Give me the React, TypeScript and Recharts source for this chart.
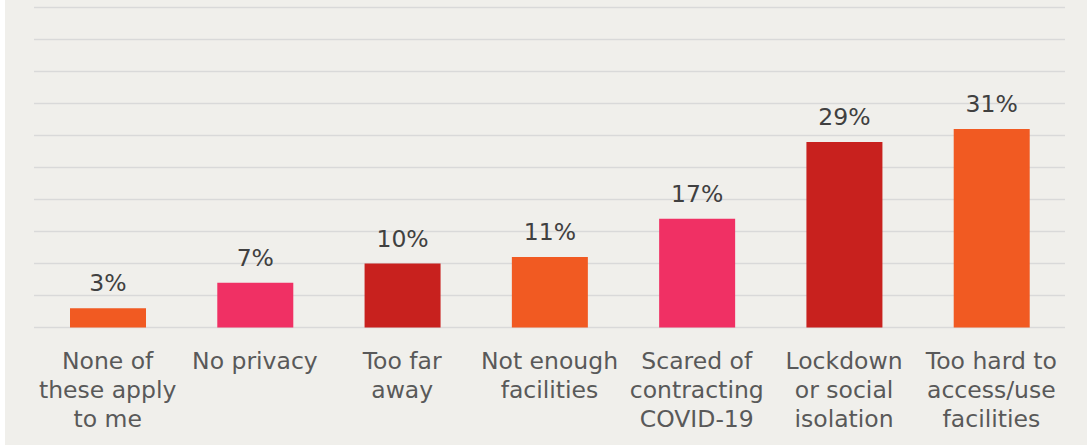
// Bar chart: reasons for not using facilities, share of respondents.

import { BarChart, Bar, XAxis, YAxis, CartesianGrid, Cell, LabelList } from 'recharts'

const categories = [
  ['None of', 'these apply', 'to me'],
  ['No privacy'],
  ['Too far', 'away'],
  ['Not enough', 'facilities'],
  ['Scared of', 'contracting', 'COVID-19'],
  ['Lockdown', 'or social', 'isolation'],
  ['Too hard to', 'access/use', 'facilities'],
]
const values = [3, 7, 10, 11, 17, 29, 31]
const barColors = ['#f15a22', '#f03064', '#c8211e', '#f15a22', '#f03064', '#c8211e', '#f15a22']
const yTicks = [0, 5, 10, 15, 20, 25, 30, 35, 40, 45, 50]

const FONT = '"DejaVu Sans", Verdana, sans-serif'

const data = categories.map((lines, i) => ({
  name: lines.join(' '),
  lines,
  value: values[i],
}))

function CategoryTick({ x, y, index }: { x?: number; y?: number; index?: number }) {
  const lines = categories[index ?? 0]
  return (
    <text x={x} y={y} textAnchor="middle" fill="#595959" fontSize={23.5} fontFamily={FONT}>
      {lines.map((line, i) => (
        <tspan key={i} x={x} dy={i === 0 ? 41 : 29}>
          {line}
        </tspan>
      ))}
    </text>
  )
}

export default function App() {
  return (
    <div
      style={{
        position: 'absolute',
        left: 5,
        top: 0,
        width: 1082,
        height: 445,
        background: '#f0efeb',
      }}
    >
      <BarChart
        width={1082}
        height={445}
        data={data}
        margin={{ top: 7.5, right: 22, bottom: 17.5, left: 29 }}
      >
        <CartesianGrid vertical={false} stroke="#d9d9d9" strokeWidth={1.5} />
        <YAxis hide domain={[0, 50]} ticks={yTicks} />
        <XAxis
          dataKey="name"
          height={100}
          axisLine={false}
          tickLine={false}
          tickSize={0}
          tickMargin={0}
          interval={0}
          tick={<CategoryTick />}
        />
        <Bar dataKey="value" barSize={76} isAnimationActive={false}>
          {data.map((_, i) => (
            <Cell key={i} fill={barColors[i]} />
          ))}
          <LabelList
            dataKey="value"
            position="top"
            offset={17}
            formatter={(v: number) => `${v}%`}
            fill="#404040"
            fontSize={23.5}
            fontFamily={FONT}
          />
        </Bar>
      </BarChart>
    </div>
  )
}
